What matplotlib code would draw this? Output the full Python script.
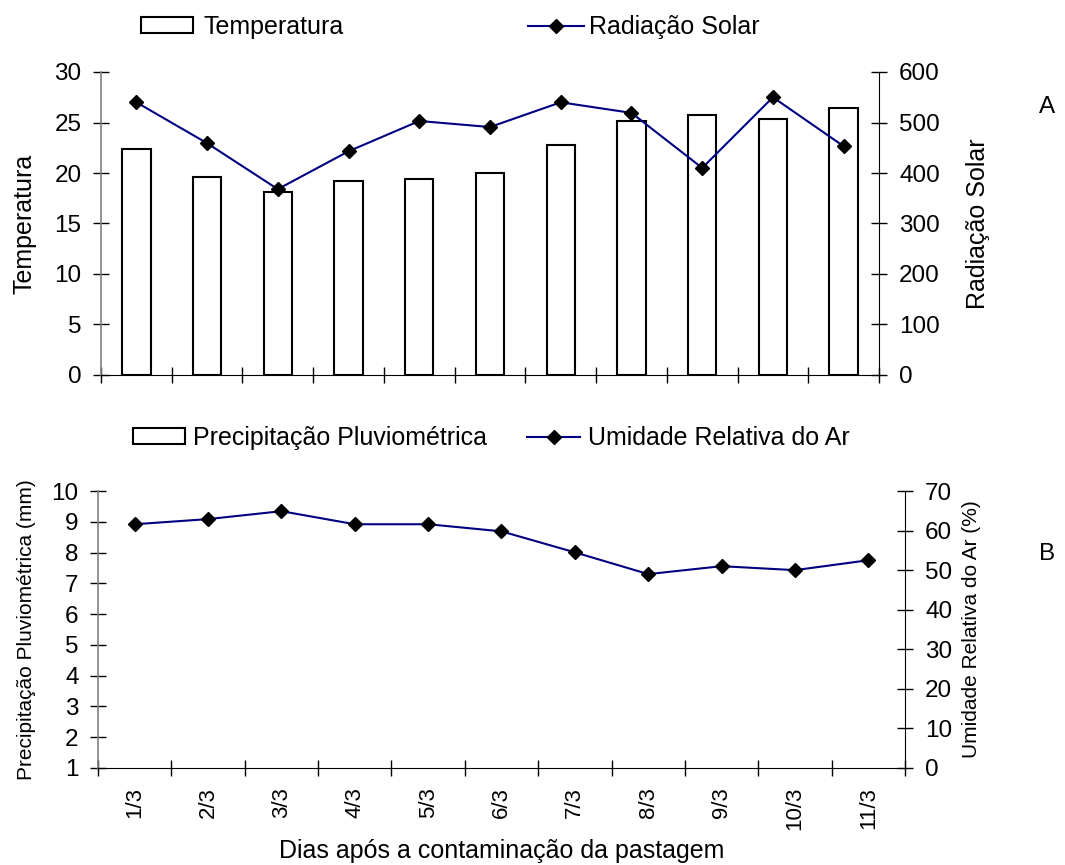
import matplotlib
matplotlib.use("Agg")
import matplotlib.pyplot as plt
from matplotlib.patches import Patch
from matplotlib.lines import Line2D
import numpy as np

plt.rcParams['font.family'] = ['Liberation Sans', 'DejaVu Sans']

# dados
dias = ["1/3", "2/3", "3/3", "4/3", "5/3", "6/3", "7/3", "8/3", "9/3", "10/3", "11/3"]
temperatura = [22.4, 19.6, 18.1, 19.2, 19.4, 20.0, 22.8, 25.1, 25.7, 25.3, 26.4]
radiacao = [540, 459, 368, 443, 503, 491, 540, 519, 410, 550, 453]
precipitacao = [0, 0, 0, 0, 0, 0, 0, 0, 0, 0, 0]
umidade = [61.6, 62.9, 64.9, 61.6, 61.6, 59.8, 54.5, 49.0, 51.0, 50.0, 52.5]

azul = '#000080'
x = np.arange(1, len(dias) + 1)

fig = plt.figure(figsize=(10.65, 8.65), dpi=100)
ax1 = fig.add_axes([101 / 1065, 1 - 375 / 865, 778 / 1065, 303 / 865])
ax1r = ax1.twinx()
ax2 = fig.add_axes([98 / 1065, 1 - 768 / 865, 807 / 1065, 277 / 865])
ax2r = ax2.twinx()

# A - temperatura e radiacao
ax1.bar(x, temperatura, width=0.4, color='white', edgecolor='black', linewidth=1.5)
ax1r.plot(x, radiacao, color=azul, lw=1.5, marker='D', ms=6.7, mfc='black', mec='black')

# B - precipitacao e umidade
ax2.bar(x, precipitacao, width=0.4, color='white', edgecolor='black', linewidth=1.5)
ax2r.plot(x, umidade, color=azul, lw=1.5, marker='D', ms=6.7, mfc='black', mec='black')

ax1.set_ylim(0, 30)
ax1.set_yticks(range(0, 31, 5))
ax1r.set_ylim(0, 600)
ax1r.set_yticks(range(0, 601, 100))
ax2.set_ylim(1, 10)
ax2.set_yticks(range(1, 11))
ax2r.set_ylim(0, 70)
ax2r.set_yticks(range(0, 71, 10))

for a, ar in ((ax1, ax1r), (ax2, ax2r)):
    a.set_xlim(0.5, len(dias) + 0.5)
    a.set_xticks(np.arange(0.5, len(dias) + 1, 1))
    a.tick_params(axis='x', which='major', direction='inout', length=12, width=1,
                  labelbottom=False)
    a.spines['top'].set_visible(False)
    a.spines['right'].set_visible(False)
    a.spines['left'].set_color('#808080')
    a.spines['left'].set_linewidth(1.2)
    for s in ('top', 'left', 'bottom'):
        ar.spines[s].set_visible(False)
    a.tick_params(axis='y', direction='inout', length=12, width=1, labelsize=17.5, pad=8)
    ar.tick_params(axis='y', direction='inout', length=12, width=1, labelsize=17.5, pad=8.5)

ax2.set_xticks(x, labels=dias, minor=True)
ax2.tick_params(axis='x', which='minor', length=0, pad=13.5, labelsize=16, labelrotation=90)

# rotulos dos eixos
ax1.set_ylabel("Temperatura", fontsize=18)
ax1r.set_ylabel("Radiação Solar", fontsize=18)
ax2.set_ylabel("Precipitação Pluviométrica (mm)", fontsize=15)
ax2r.set_ylabel("Umidade Relativa do Ar (%)", fontsize=15)
ax2.set_xlabel("Dias após a contaminação da pastagem", fontsize=18)
for a, xc in ((ax1, -0.0977), (ax1r, 1.127), (ax2, -0.0892), (ax2r, 1.083)):
    a.yaxis.label.set_va('center')
    a.yaxis.set_label_coords(xc, 0.5)
ax2.xaxis.label.set_va('center')
ax2.xaxis.set_label_coords(0.5, -0.2996)

fig.text(1047 / 1065, 1 - 107 / 865, "A", ha='center', va='center', fontsize=17.5)
fig.text(1047 / 1065, 1 - 554 / 865, "B", ha='center', va='center', fontsize=17.5)


def entrada(handle, label, xpos, ypos, hlen, sep):
    fig.legend([handle], [label], loc='center left', bbox_to_anchor=(xpos, ypos),
               frameon=False, borderpad=0, borderaxespad=0, handlelength=hlen,
               handleheight=0.6, handletextpad=sep, fontsize=18)


barra = Patch(facecolor='white', edgecolor='black', linewidth=1.5)
linha = Line2D([], [], color=azul, lw=1.5, marker='D', ms=6.7, mfc='black', mec='black')

entrada(barra, "Temperatura", 141 / 1065, 1 - 27 / 865, 2.08, 0.4)
entrada(linha, "Radiação Solar", 528 / 1065, 1 - 27 / 865, 2.24, 0.2)
entrada(barra, "Precipitação Pluviométrica", 133 / 1065, 1 - 438 / 865, 2.08, 0.32)
entrada(linha, "Umidade Relativa do Ar", 527 / 1065, 1 - 438 / 865, 2.12, 0.32)

fig.savefig("out.png", dpi=100)
